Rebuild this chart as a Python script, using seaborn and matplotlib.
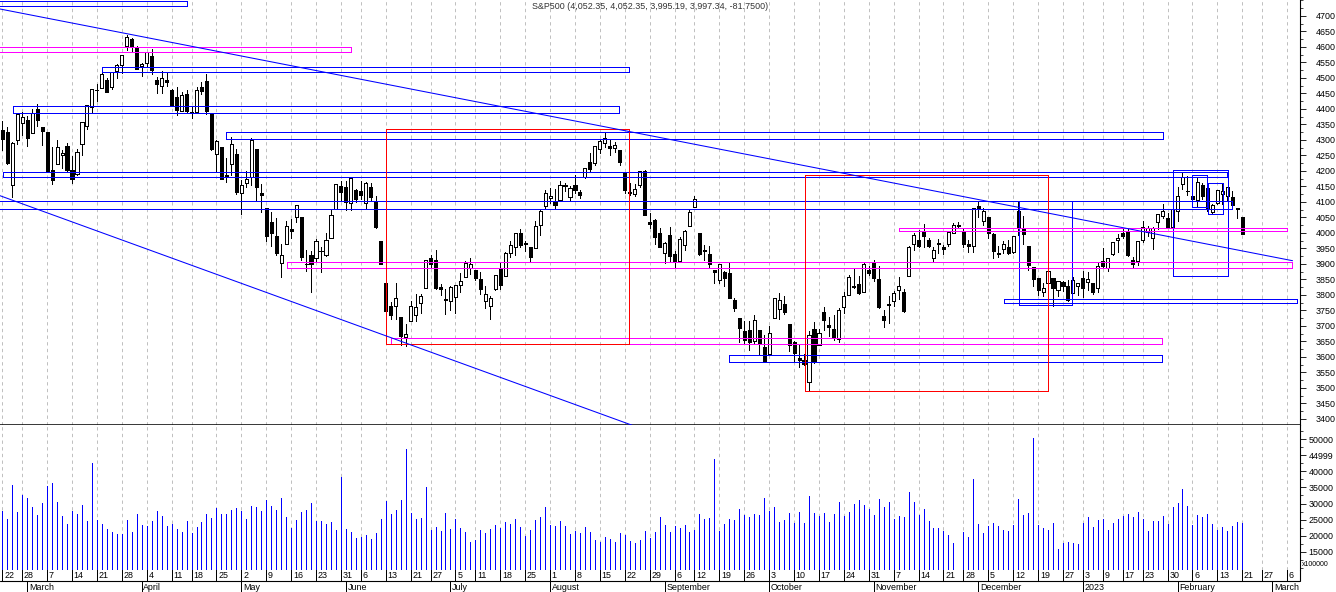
import numpy as np
import pandas as pd
import matplotlib
matplotlib.use("Agg")
import matplotlib.pyplot as plt
from matplotlib.patches import Rectangle
from matplotlib.ticker import MultipleLocator
import seaborn as sns

sns.set_theme(style="white")
plt.rcParams['font.family'] = ['Liberation Sans', 'DejaVu Sans']

# --- daily S&P500 candles, 22 Feb 2022 .. 21 Feb 2023 ---
opens = [
    4332.7, 4325.0, 4155.8, 4298.4, 4354.2,
    4363.1, 4322.6, 4401.3, 4342.1, 4327.0, 4202.7, 4223.1, 4252.6, 4279.5, 4202.8, 4188.8, 4288.1, 4345.1, 4407.3,
    4462.4, 4469.1, 4493.1, 4470.0, 4522.7, 4541.1, 4602.9, 4624.2, 4599.0,
    4540.3, 4548.0, 4572.5, 4494.2, 4474.7, 4494.2, 4462.6, 4437.6, 4394.3, 4449.1, 4385.6, 4390.6, 4472.3, 4489.2,
    4385.8, 4255.3, 4278.1, 4186.5, 4222.6, 4253.8,
    4130.6, 4159.8, 4181.2, 4270.4, 4128.2, 4081.3, 4035.2, 3990.1, 3904.0, 3963.9, 4013.0, 4052.0, 4052.0, 3899.0,
    3927.8, 3919.4, 3942.9, 3929.6, 3984.6, 4077.4, 4151.1,
    4149.8, 4095.4, 4137.6, 4134.7, 4096.5, 4147.1, 4101.7, 3974.4, 3838.2, 3763.5, 3764.0, 3728.2, 3665.9, 3715.3,
    3733.9, 3774.7, 3821.8, 3920.8, 3913.0, 3825.1, 3786.0,
    3781.0, 3792.6, 3832.0, 3858.9, 3888.3, 3880.9, 3852.0, 3779.7, 3764.0, 3818.0, 3883.8, 3860.7, 3935.3, 3955.5,
    4000.0, 3965.7, 3953.2, 3951.4, 4026.1, 4087.3,
    4112.4, 4104.2, 4108.0, 4154.9, 4115.9, 4155.9, 4133.1, 4181.0, 4227.4, 4225.0, 4269.4, 4290.5, 4280.4, 4273.1,
    4266.3, 4195.1, 4133.1, 4126.6, 4153.3, 4198.7, 4034.6, 4041.3, 4000.7,
    3936.7, 3994.7, 3930.9, 3909.4, 3959.9, 4022.9, 4083.7, 4000.7, 3940.7, 3932.4, 3881.0, 3849.9, 3875.2, 3871.4,
    3782.4, 3727.1, 3682.7, 3686.4, 3651.9, 3687.0, 3633.5,
    3609.8, 3726.5, 3753.3, 3772.0, 3706.7, 3647.5, 3595.9, 3590.8, 3520.4, 3690.4, 3638.7, 3746.3, 3703.1, 3689.1,
    3657.1, 3762.0, 3799.4, 3826.0, 3834.7, 3808.3, 3881.9,
    3901.8, 3852.9, 3733.3, 3767.0, 3780.7, 3817.0, 3810.9, 3859.9, 3963.7, 3978.0, 4006.4, 3976.8, 3919.3, 3966.4,
    3956.2, 3965.5, 4000.3, 4023.3, 4005.4, 3964.2, 3957.2,
    4087.1, 4040.2, 4052.0, 3996.6, 3933.3, 3947.8, 3954.2, 3939.3, 4069.4, 4015.5, 3958.4, 3890.9, 3853.8, 3810.5,
    3839.5, 3853.6, 3815.1, 3843.3, 3829.6, 3805.5, 3829.1,
    3853.3, 3840.4, 3839.7, 3823.4, 3910.8, 3888.6, 3932.4, 3977.6, 3999.3, 4002.3, 3911.8, 3909.0, 3978.1, 4001.7,
    3982.7, 4036.1, 4053.7, 4049.3, 4020.9,
    4070.1, 4158.7, 4136.7, 4119.6, 4105.3, 4153.5, 4144.3, 4068.9, 4096.6, 4126.7, 4119.5, 4114.8, 4077.4, 4052.35,
]
highs = [
    4362.1, 4341.5, 4294.7, 4385.3, 4388.8,
    4378.5, 4401.5, 4416.8, 4342.1, 4327.0, 4276.9, 4299.4, 4268.3, 4291.0, 4247.6, 4271.1, 4358.0, 4412.7, 4465.4,
    4481.8, 4522.0, 4501.1, 4520.6, 4546.0, 4575.7, 4637.3, 4627.8, 4603.1,
    4548.7, 4583.5, 4593.5, 4503.9, 4521.2, 4520.4, 4464.4, 4471.0, 4453.9, 4460.5, 4410.3, 4471.0, 4488.3, 4512.9,
    4385.8, 4299.0, 4278.1, 4240.7, 4308.5, 4269.7,
    4169.8, 4200.1, 4308.0, 4270.4, 4157.7, 4081.3, 4068.8, 4049.1, 3964.8, 4038.9, 4046.5, 4090.7, 4052.0, 3946.0,
    3943.4, 3981.9, 3955.7, 3999.3, 4075.1, 4158.5, 4168.3,
    4166.5, 4177.5, 4142.7, 4168.8, 4164.9, 4160.1, 4119.1, 3974.4, 3838.2, 3778.2, 3837.6, 3728.2, 3707.7, 3779.7,
    3801.8, 3802.6, 3913.7, 3927.7, 3945.9, 3836.5, 3819.0,
    3829.8, 3832.2, 3870.9, 3910.6, 3918.5, 3880.9, 3873.4, 3829.4, 3796.4, 3863.6, 3902.4, 3939.8, 3974.1, 3999.3,
    4012.4, 3975.3, 3953.2, 4039.6, 4078.9, 4140.2,
    4145.0, 4140.5, 4167.7, 4161.3, 4151.6, 4186.6, 4137.3, 4211.0, 4257.9, 4280.5, 4301.8, 4325.3, 4302.2, 4292.5,
    4266.3, 4195.1, 4159.8, 4156.6, 4200.5, 4203.0, 4063.0, 4045.0, 4015.4,
    3970.2, 4018.4, 3942.6, 3987.9, 4010.5, 4076.8, 4119.3, 4000.7, 3961.9, 3959.1, 3881.0, 3900.4, 3876.0, 3907.1,
    3790.8, 3727.1, 3715.7, 3717.5, 3736.7, 3687.0, 3671.4,
    3698.4, 3791.9, 3806.9, 3797.9, 3706.7, 3652.2, 3640.7, 3608.3, 3685.4, 3712.0, 3689.7, 3762.8, 3728.6, 3736.0,
    3757.9, 3810.7, 3862.9, 3886.2, 3860.0, 3905.4, 3893.7,
    3911.8, 3894.4, 3750.6, 3796.3, 3814.0, 3859.4, 3818.2, 3958.3, 4001.5, 4009.0, 4028.8, 3983.1, 3954.3, 3979.9,
    3962.0, 4005.9, 4033.8, 4034.0, 4012.3, 3976.8, 4080.1,
    4100.5, 4080.5, 4052.5, 4001.5, 3957.6, 3974.2, 3977.0, 3990.7, 4101.0, 4053.8, 3958.4, 3890.9, 3854.9, 3838.2,
    3889.3, 3853.6, 3845.8, 3846.7, 3848.3, 3858.2, 3839.9,
    3878.5, 3873.2, 3839.7, 3906.2, 3950.6, 3919.8, 3970.1, 3997.8, 4015.4, 4014.2, 3922.9, 3973.0, 4039.3, 4023.9,
    4019.6, 4061.6, 4094.2, 4063.9, 4077.2,
    4148.9, 4195.4, 4182.4, 4124.6, 4176.5, 4160.7, 4156.2, 4094.4, 4138.9, 4159.8, 4148.1, 4136.5, 4081.5, 4052.35,
]
lows = [
    4267.1, 4221.5, 4114.7, 4286.8, 4315.1,
    4279.5, 4322.6, 4345.6, 4285.0, 4199.9, 4157.9, 4223.1, 4209.8, 4200.5, 4161.7, 4187.9, 4252.0, 4335.7, 4390.6,
    4424.3, 4469.1, 4455.8, 4465.2, 4501.1, 4517.7, 4589.7, 4588.0, 4530.4,
    4507.6, 4539.2, 4514.2, 4450.0, 4450.3, 4474.6, 4408.4, 4381.3, 4392.7, 4390.8, 4370.3, 4390.6, 4448.8, 4384.5,
    4267.6, 4200.8, 4175.0, 4162.9, 4188.6, 4124.3,
    4062.5, 4147.1, 4154.9, 4106.0, 4067.9, 3975.5, 3958.2, 3928.8, 3858.9, 3963.9, 3984.0, 4033.9, 3911.9, 3876.6,
    3810.3, 3908.1, 3875.1, 3925.0, 3984.6, 4077.4, 4104.9,
    4073.9, 4074.4, 4098.7, 4109.2, 4080.2, 4107.2, 4017.2, 3900.2, 3734.3, 3722.3, 3722.3, 3639.8, 3636.9, 3715.3,
    3717.7, 3743.5, 3821.8, 3889.7, 3820.1, 3799.0, 3738.7,
    3752.1, 3742.1, 3809.4, 3858.9, 3869.3, 3847.2, 3802.4, 3759.1, 3721.6, 3817.2, 3818.6, 3860.7, 3922.0, 3927.6,
    3955.8, 3943.5, 3910.7, 3951.4, 3993.0, 4079.2,
    4096.0, 4079.8, 4108.0, 4135.4, 4107.3, 4129.0, 4112.1, 4177.3, 4201.4, 4219.8, 4256.9, 4277.8, 4253.1, 4262.0,
    4218.7, 4129.9, 4124.0, 4120.0, 4147.6, 4057.7, 4017.4, 3965.2, 3954.5,
    3903.7, 3906.2, 3886.6, 3906.0, 3944.8, 4022.9, 4083.7, 3928.9, 3912.2, 3888.3, 3837.1, 3838.5, 3827.5, 3789.5,
    3749.5, 3647.5, 3644.8, 3623.3, 3640.6, 3610.4, 3584.1,
    3604.9, 3726.5, 3722.7, 3739.2, 3620.7, 3588.1, 3568.5, 3573.9, 3491.6, 3579.7, 3638.7, 3686.5, 3666.5, 3656.4,
    3647.4, 3741.7, 3799.4, 3824.1, 3803.8, 3808.3, 3863.2,
    3843.8, 3758.7, 3698.2, 3708.8, 3764.7, 3786.3, 3744.2, 3859.9, 3944.8, 3956.4, 3953.2, 3954.3, 3906.5, 3936.0,
    3933.3, 3956.9, 3998.7, 4020.8, 3955.8, 3937.7, 3938.6,
    4050.9, 4026.6, 3984.5, 3918.4, 3922.7, 3935.8, 3933.0, 3935.3, 3993.0, 3965.7, 3879.5, 3827.9, 3800.0, 3795.6,
    3839.5, 3764.5, 3797.0, 3813.2, 3780.8, 3805.5, 3800.3,
    3794.3, 3815.8, 3802.4, 3809.6, 3890.4, 3877.3, 3928.5, 3937.6, 3984.6, 3926.6, 3885.5, 3897.9, 3971.6, 3989.8,
    3949.1, 4013.3, 4048.7, 4015.6, 4020.4,
    4037.2, 4141.9, 4123.4, 4093.4, 4088.4, 4111.0, 4069.7, 4060.8, 4092.7, 4095.0, 4104.0, 4089.9, 4048.0, 3995.19,
]
closes = [
    4304.8, 4225.5, 4288.7, 4384.7, 4373.9,
    4306.3, 4386.5, 4363.5, 4328.9, 4201.1, 4170.7, 4277.9, 4259.5, 4204.3, 4173.1, 4262.5, 4357.9, 4411.7, 4463.1,
    4461.2, 4511.6, 4456.2, 4520.2, 4543.1, 4575.5, 4631.6, 4602.5, 4530.4,
    4545.9, 4582.6, 4525.1, 4481.2, 4500.2, 4488.3, 4412.5, 4397.5, 4446.6, 4392.6, 4391.7, 4462.2, 4459.5, 4393.7,
    4271.8, 4296.1, 4175.2, 4184.0, 4287.5, 4131.9,
    4155.4, 4175.5, 4300.2, 4146.9, 4123.3, 3991.2, 4001.1, 3935.2, 3930.1, 4023.9, 4008.0, 4088.9, 3923.7, 3900.8,
    3901.4, 3973.8, 3941.5, 3978.7, 4057.8, 4158.2, 4132.2,
    4101.2, 4176.8, 4108.5, 4121.4, 4160.7, 4115.8, 4017.8, 3900.9, 3749.6, 3735.5, 3790.0, 3666.8, 3674.8, 3764.8,
    3759.9, 3795.7, 3911.7, 3900.1, 3821.6, 3818.8, 3785.4,
    3825.3, 3831.4, 3845.1, 3902.6, 3899.4, 3854.4, 3818.8, 3801.8, 3790.4, 3863.2, 3830.9, 3936.7, 3959.9, 3999.0,
    3961.6, 3966.8, 3921.1, 4023.6, 4072.4, 4130.3,
    4118.6, 4091.2, 4155.2, 4151.9, 4145.2, 4140.1, 4122.5, 4210.2, 4207.3, 4280.2, 4297.1, 4305.2, 4274.0, 4283.7,
    4228.5, 4138.0, 4128.7, 4140.8, 4199.1, 4057.7, 4030.6, 3986.2, 3955.0,
    3966.9, 3924.3, 3908.2, 3979.9, 4006.2, 4067.4, 4110.4, 3932.7, 3946.0, 3901.4, 3873.3, 3899.9, 3855.9, 3789.9,
    3758.0, 3693.2, 3655.0, 3647.3, 3719.0, 3640.5, 3585.6,
    3678.4, 3790.9, 3783.3, 3744.5, 3639.7, 3612.4, 3588.8, 3577.0, 3669.9, 3583.1, 3678.0, 3720.0, 3695.2, 3665.8,
    3752.8, 3797.3, 3859.1, 3830.6, 3807.3, 3901.1, 3872.0,
    3856.1, 3759.7, 3719.9, 3770.6, 3806.8, 3828.1, 3748.6, 3956.4, 3992.9, 3957.3, 3991.7, 3958.8, 3946.6, 3965.3,
    3949.9, 4003.6, 4027.3, 4026.1, 3963.9, 3957.6, 4080.1,
    4076.6, 4071.7, 3998.8, 3941.3, 3933.9, 3963.5, 3934.4, 3990.6, 4019.7, 3995.3, 3895.8, 3852.4, 3817.7, 3821.6,
    3878.4, 3822.4, 3844.8, 3829.3, 3783.2, 3849.3, 3839.5,
    3824.1, 3853.0, 3808.1, 3895.1, 3892.1, 3919.3, 3969.6, 3983.2, 3991.0, 3928.9, 3898.9, 3972.6, 4019.8, 4017.0,
    4016.2, 4060.4, 4070.6, 4017.8, 4076.6,
    4119.2, 4179.8, 4136.5, 4111.1, 4164.0, 4117.9, 4081.5, 4090.5, 4137.3, 4136.1, 4147.6, 4090.4, 4079.1, 3997.34,
]
# volume, in units of 100000 shares
volumes = [
    27700, 25200, 35800, 27400, 32700,
    31700, 28900, 26400, 30200, 35600, 36400, 30500, 26100, 23600, 27700, 26700, 29500, 24600, 42600,
    24900, 23600, 22100, 21100, 20500, 20500, 24900, 21100, 26700,
    23300, 23000, 24600, 27700, 26100, 23000, 23600, 22100, 21100, 24600, 20800, 22700, 24200, 26700,
    25500, 28600, 26700, 26700, 28000, 28600,
    27700, 25200, 29200, 28900, 27700, 31100, 29200, 28000, 31700, 25800, 22400, 24900, 27400, 28000,
    30200, 24600, 24600, 23600, 24200, 21800, 38300,
    22100, 21100, 19300, 19600, 20200, 19000, 20800, 25200, 30800, 26700, 28000, 31100, 47000, 27000,
    25200, 25500, 35100, 21800, 22700, 21400, 27000,
    22100, 25200, 22400, 21100, 18000, 18600, 21800, 20800, 22100, 23300, 22500, 24200, 23600, 25200,
    22700, 19900, 21800, 24900, 25800, 28900,
    23300, 23000, 24600, 23000, 20500, 21400, 20800, 22700, 21100, 18600, 18000, 19600, 19000, 18000,
    20800, 20200, 18300, 17700, 18600, 21400, 19300, 21100, 25800,
    23300, 21100, 23000, 22400, 23300, 21100, 21800, 26700, 25200, 25500, 43900, 21400, 23600, 25200,
    24900, 28300, 26400, 25800, 26700, 26400, 31700,
    27700, 28900, 24200, 24900, 27000, 23900, 27400, 23900, 32300, 27000, 26100, 27000, 24200, 26700,
    30500, 26100, 27400, 29900, 31100, 29500, 28300,
    26400, 31400, 28900, 30500, 25200, 26100, 25800, 33600, 30500, 26400, 28300, 24600, 22400, 22400,
    21400, 20200, 17700, 8000, 21100, 19600, 37600,
    23600, 20800, 23000, 23900, 23000, 21800, 21400, 23300, 31400, 26400, 27000, 50300, 23300, 22400,
    21800, 23900, 15800, 17700, 18000, 17700, 17400,
    23900, 25800, 22700, 24900, 25200, 21800, 23900, 25200, 26100, 26700, 25800, 27400, 25200, 21400,
    24600, 24600, 26100, 23600, 28900,
    30200, 34500, 29200, 23300, 26400, 25800, 26700, 23600, 21800, 22700, 21400, 23000, 24200, 23900,
]

# market holidays, plus one January session that the data feed skipped
holidays = ['2022-04-15', '2022-05-30', '2022-06-20', '2022-07-04', '2022-09-05', '2022-11-24',
            '2022-12-26', '2023-01-02', '2023-01-16', '2023-02-20']
missing_days = ['2023-01-13']

# drawn studies: (start bar, end bar, low, high)
blue_boxes = [
    (-3, 37.0, 4732, 4748), (20.1, 125.9, 4519, 4535), (2.2, 123.9, 4386, 4409),
    (45.0, 233.0, 4302, 4325), (0.2, 245.9, 4180, 4196), (-3, 247.0, 4077, 4102),
    (146.0, 232.9, 3583, 3605), (201.2, 260.0, 3773, 3788), (204.2, 214.9, 3767, 4104),
    (235.1, 246.1, 3860, 4202), (239.0, 242.0, 4085, 4187), (242.2, 245.1, 4060, 4160),
]
magenta_boxes = [
    (-3, 70.0, 4585, 4599), (57.1, 259.0, 3886, 3906), (78.1, 232.9, 3641, 3662), (180.1, 258.0, 4005, 4017),
]
red_boxes = [(77.1, 125.9, 3641, 4335), (161.2, 210.0, 3490, 4186)]
trend_lines = [((-0.5, 4722.7), (259.1, 3910.6)), ((-0.5, 4120.5), (130.0, 3359.3))]

title = "S&P500 (4,052.35, 4,052.35, 3,995.19, 3,997.34, -81.7500)"

opens, highs, lows, closes = map(np.array, (opens, highs, lows, closes))
volumes = np.array(volumes)
n = len(closes)
assert len(opens) == len(highs) == len(lows) == len(volumes) == n == 250
idx = np.arange(n)

days = pd.bdate_range('2022-02-22', '2023-03-31')
days = days[~days.isin(pd.to_datetime(holidays + missing_days))]

XMIN, XMAX = -0.462, 260.6
days = days[:int(XMAX) + 1]
slots = np.arange(len(days))
week = days.isocalendar().week.values
week_pos = [k for k in slots if k == 0 or week[k] != week[k - 1]]
month_pos = [k for k in slots if k > 0 and days[k].month != days[k - 1].month]

W, H = 1336, 592
THIN = 0.6  # about one pixel at 100 dpi
fig = plt.figure(figsize=(W / 100, H / 100), dpi=100)
fig.patch.set_facecolor('white')


def box(x0, y0, x1, y1):
    return [x0 / W, 1 - y1 / H, (x1 - x0) / W, (y1 - y0) / H]


ax = fig.add_axes(box(0, 0, 1300, 425))
axv = fig.add_axes(box(0, 425, 1300, 570))
axd = fig.add_axes(box(0, 570, 1300, 592))

grid_kw = dict(color='#b4b4b4', lw=THIN, ls=(0, (4, 4)), zorder=0)
for a in (ax, axv):
    a.set_facecolor('white')
    a.set_xlim(XMIN, XMAX)
    a.set_xticks([])
    for k in week_pos:
        a.axvline(k, **grid_kw)
    for s in ('left', 'top'):
        a.spines[s].set_visible(False)
    a.spines['right'].set_color('black')
    a.spines['right'].set_linewidth(0.8)
    a.yaxis.tick_right()

# --- price panel ---
ax.set_ylim(3380.6, 4751.6)
ax.spines['bottom'].set_color('black')
ax.spines['bottom'].set_linewidth(1.1)
ax.set_yticks(np.arange(3400, 4701, 50))
ax.yaxis.set_minor_locator(MultipleLocator(25))
ax.tick_params(axis='y', which='major', direction='out', length=4, width=THIN, pad=7,
               labelsize=6.4, colors='black')
ax.tick_params(axis='y', which='minor', direction='out', length=2, width=THIN)

up = closes >= opens
body_low = np.minimum(opens, closes)
body_h = np.abs(closes - opens)
ax.vlines(idx, lows, highs, color='black', lw=THIN, antialiased=False, zorder=2)
ax.bar(idx[up], body_h[up], bottom=body_low[up], width=0.62, color='white',
       edgecolor='black', linewidth=THIN, antialiased=False, zorder=3)
ax.bar(idx[~up], body_h[~up], bottom=body_low[~up], width=0.62, color='black',
       edgecolor='black', linewidth=THIN, antialiased=False, zorder=3)

for boxes, col in ((blue_boxes, '#0000ff'), (magenta_boxes, '#ff00ff'), (red_boxes, '#ff0000')):
    for x0, x1, lo, hi in boxes:
        ax.add_patch(Rectangle((x0, lo), x1 - x0, hi - lo, fill=False, edgecolor=col,
                               lw=0.7, antialiased=False, zorder=4))
for (x0, p0), (x1, p1) in trend_lines:
    ax.plot([x0, x1], [p0, p1], color='#0000ff', lw=0.75, antialiased=True, zorder=4)

# --- volume panel ---
axv.set_ylim(9300, 54450)
axv.spines['bottom'].set_visible(False)
axv.vlines(idx, 0, volumes, color='#0000ff', lw=THIN, antialiased=False, zorder=2)
vticks = np.arange(15000, 50001, 5000)
axv.set_yticks(vticks)
axv.set_yticklabels(['44999' if v == 45000 else str(v) for v in vticks])
axv.yaxis.set_minor_locator(MultipleLocator(2500))
axv.tick_params(axis='y', which='major', direction='out', length=4, width=THIN, pad=2,
                labelsize=6.4, colors='black')
axv.tick_params(axis='y', which='minor', direction='out', length=2, width=THIN)
fig.text(1302 / W, 1 - 565 / H, 'x100000', fontsize=5, ha='left', va='center', color='black')

# --- date strip ---
axd.set_xlim(XMIN, XMAX)
axd.set_ylim(0, 1)
axd.axis('off')
axd.axhline(0.5, color='black', lw=0.8)
axd.plot([1, 1], [0.5, 1], color='black', lw=0.8, transform=axd.transAxes, clip_on=False)
axd.vlines(week_pos, 0.5, 1.0, color='black', lw=THIN, antialiased=False)
for k in week_pos:
    axd.text(k + 0.35, 0.74, str(days[k].day), fontsize=6.4, ha='left', va='center', color='black')
axd.vlines(month_pos, 0.0, 0.5, color='black', lw=THIN, antialiased=False)
for k in month_pos:
    d = days[k]
    label = str(d.year) if d.month == 1 else d.strftime('%B')
    axd.text(k + 0.35, 0.2, label, fontsize=6.4, ha='left', va='center', color='black')

fig.text(650 / W, 1 - 6.7 / H, title, fontsize=6.4, ha='center', va='center', color='#333333')

fig.savefig('out.png', dpi=100, facecolor='white')
